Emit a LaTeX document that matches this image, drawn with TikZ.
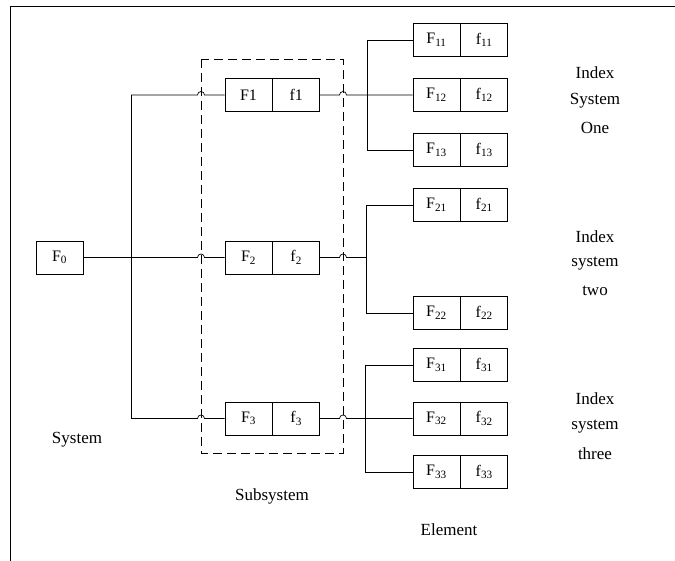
\documentclass[tikz,border=0pt]{standalone}
\usepackage{fontspec}
\setmainfont{Liberation Serif}
\usetikzlibrary{calc}
\begin{document}
\begin{tikzpicture}[x=1pt,y=-1pt,
  line width=0.7pt,
  cell/.style={draw, minimum width=47pt, minimum height=33pt, inner sep=0pt, font=\fontsize{16}{18}\selectfont},
  lbl/.style={font=\fontsize{17}{19}\selectfont, align=center},
  dbox/.style={draw, dash pattern=on 9pt off 5pt}
]
\useasboundingbox (0,0) rectangle (675,560);
% frame
\draw (10,570) -- (10,6) -- (690,6);

% system
\node[cell] (F0) at (59.5,257.5) {F\textsubscript{0}};

% subsystem boxes
\node[cell] (F1) at (248.5,95) {F1};
\node[cell, anchor=west] (f1) at (F1.east) {f1};
\node[cell] (F2) at (248.5,257.5) {F\textsubscript{2}};
\node[cell, anchor=west] (f2) at (F2.east) {f\textsubscript{2}};
\node[cell] (F3) at (248.5,418.5) {F\textsubscript{3}};
\node[cell, anchor=west] (f3) at (F3.east) {f\textsubscript{3}};

% dashed box
\coordinate (dl) at (201,59);
\coordinate (dr) at (343,453);
\draw[dbox] (dl) rectangle (dr);

% element boxes
\foreach \n/\y in {11/40,12/95,13/150,21/205,22/313,31/365,32/418.5,33/472}{
  \node[cell] (F\n) at (436.5,\y) {F\textsubscript{\n}};
  \node[cell, anchor=west] (f\n) at (F\n.east) {f\textsubscript{\n}};
}

% trunk
\coordinate (t1) at (131,95);
\coordinate (t3) at (131,418.5);
\draw (t1) -- (t3);
\draw (F0.east) -- (F0.east -| t1);

% rows: trunk to subsystem with hop
\foreach \r in {1,2,3}{
  \draw (F\r.west -| t1) -- ($(F\r.west -| dl)+(-3.5,0)$) arc (180:360:3.5) -- (F\r.west);
}

% element branch verticals
\coordinate (b1) at (367,95);
\coordinate (b2) at (366,257.5);
\coordinate (b3) at (365,418.5);
\draw (f1.east) -- ($(f1.east -| dr)+(-3.5,0)$) arc (180:360:3.5) -- (F12.west);
\draw (f2.east) -- ($(f2.east -| dr)+(-3.5,0)$) arc (180:360:3.5) -- (b2);
\draw (f3.east) -- ($(f3.east -| dr)+(-3.5,0)$) arc (180:360:3.5) -- (b3) -- (F32.west);

\draw (F11.west) -- (F11.west -| b1) -- (F13.west -| b1) -- (F13.west);
\draw (F21.west) -- (F21.west -| b2) -- (F22.west -| b2) -- (F22.west);
\draw (F31.west) -- (F31.west -| b3) -- (F33.west -| b3) -- (F33.west);

% labels
\node[lbl] (L1a) at (595,73) {Index};
\node[lbl] (L1b) at (595,101) {System};
\node[lbl] (L1c) at (595,128) {One};
\node[lbl] (L2a) at (595,237) {Index};
\node[lbl] (L2b) at (595,264) {system};
\node[lbl] (L2c) at (595,291) {two};
\node[lbl] (L3a) at (595,399) {Index};
\node[lbl] (L3b) at (595,427) {system};
\node[lbl] (L3c) at (595,454) {three};
\node[lbl] (sys) at (77,440) {System};
\node[lbl] (sub) at (272,496) {Subsystem};
\node[lbl] (ele) at (449,530) {Element};
\end{tikzpicture}
\end{document}
